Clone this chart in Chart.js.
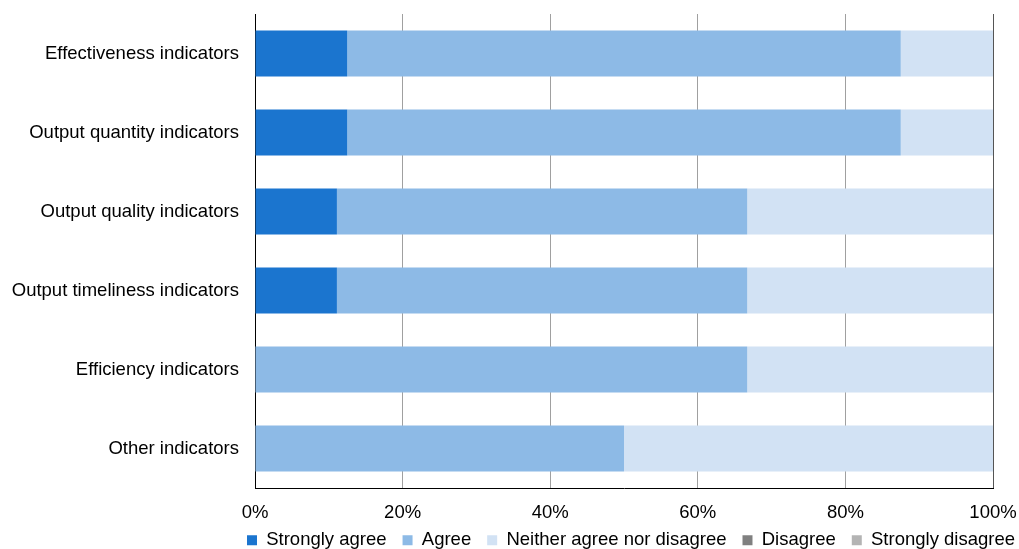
<!DOCTYPE html>
<html>
<head>
<meta charset="utf-8">
<script src="https://cdn.jsdelivr.net/npm/chart.js"></script>
<style>
  html, body { margin: 0; padding: 0; background: #fff; }
  #wrap { width: 1019px; height: 549px; }
</style>
</head>
<body>
<div id="wrap"><canvas id="c" width="1019" height="549"></canvas></div>
<script>
"use strict";

const categories = [
    'Effectiveness indicators',
    'Output quantity indicators',
    'Output quality indicators',
    'Output timeliness indicators',
    'Efficiency indicators',
    'Other indicators'
];

const stronglyAgree = [12.5, 12.5, 11.1, 11.1, 0, 0];
const agree = [75, 75, 55.6, 55.6, 66.7, 50];
const neither = [12.5, 12.5, 33.3, 33.3, 33.3, 50];
const disagree = [0, 0, 0, 0, 0, 0];
const stronglyDisagree = [0, 0, 0, 0, 0, 0];

const xTicks = [0, 20, 40, 60, 80, 100];

Chart.defaults.font.family = "'Liberation Sans', Arial, sans-serif";
Chart.defaults.font.size = 18.5;
Chart.defaults.color = '#000';

const LEGEND_PAD = 16;

function series(label, data, color) {
    return {
        label: label,
        data: data,
        backgroundColor: color,
        borderWidth: 0,
        barPercentage: 0.58,
        categoryPercentage: 1.0
    };
}

// legend row sits just under the tick labels, flush with the right edge
const legendPlacement = {
    id: 'legendPlacement',
    beforeLayout(chart) {
        const lg = chart.legend;
        if (lg && !lg._compact) {
            const fit = lg.fit;
            lg.fit = function() {
                fit.call(this);
                this.height = 21;
            };
            lg._compact = true;
        }
    },
    afterLayout(chart) {
        const lg = chart.legend;
        if (lg) {
            lg.left = 0;
            lg.right = 1015 + LEGEND_PAD;
            lg.top = 515;
            lg.bottom = 549;
        }
    }
};

const ctx = document.getElementById('c').getContext('2d');

new Chart(ctx, {
    type: 'bar',
    data: {
        labels: categories,
        datasets: [
            series('Strongly agree', stronglyAgree, '#1b75cf'),
            series('Agree', agree, '#8dbae6'),
            series('Neither agree nor disagree', neither, '#d2e2f4'),
            series('Disagree', disagree, '#808080'),
            series('Strongly disagree', stronglyDisagree, '#b4b4b4')
        ]
    },
    plugins: [legendPlacement],
    options: {
        indexAxis: 'y',
        responsive: false,
        animation: false,
        layout: { padding: { top: 14, right: 26, left: 0, bottom: 0 } },
        plugins: {
            tooltip: { enabled: false },
            legend: {
                position: 'bottom',
                align: 'end',
                labels: {
                    boxWidth: 10,
                    boxHeight: 10,
                    padding: LEGEND_PAD,
                    color: '#000',
                    font: { size: 18.5 }
                }
            }
        },
        scales: {
            x: {
                stacked: true,
                min: 0,
                max: 100,
                afterBuildTicks: function(axis) {
                    axis.ticks = xTicks.map(v => ({ value: v }));
                },
                afterFit: function(axis) {
                    axis.height = 40;
                    axis.paddingLeft = 0;
                    axis.paddingRight = 0;
                },
                grid: {
                    drawTicks: false,
                    color: function(c) {
                        if (c.tick && c.tick.value === 100) return '#555555';
                        if (c.tick && c.tick.value === 0) return 'rgba(0,0,0,0)';
                        return '#a0a0a0';
                    },
                    lineWidth: 1
                },
                border: { display: true, color: '#000', width: 1 },
                ticks: {
                    padding: 14,
                    maxRotation: 0,
                    callback: v => v + '%'
                }
            },
            y: {
                stacked: true,
                afterFit: function(axis) {
                    axis.width = 255;
                    axis.paddingTop = 0;
                    axis.paddingBottom = 0;
                },
                grid: { display: false, drawTicks: false },
                border: { display: true, color: '#000', width: 1 },
                ticks: { padding: 16 }
            }
        }
    }
});
</script>
</body>
</html>
